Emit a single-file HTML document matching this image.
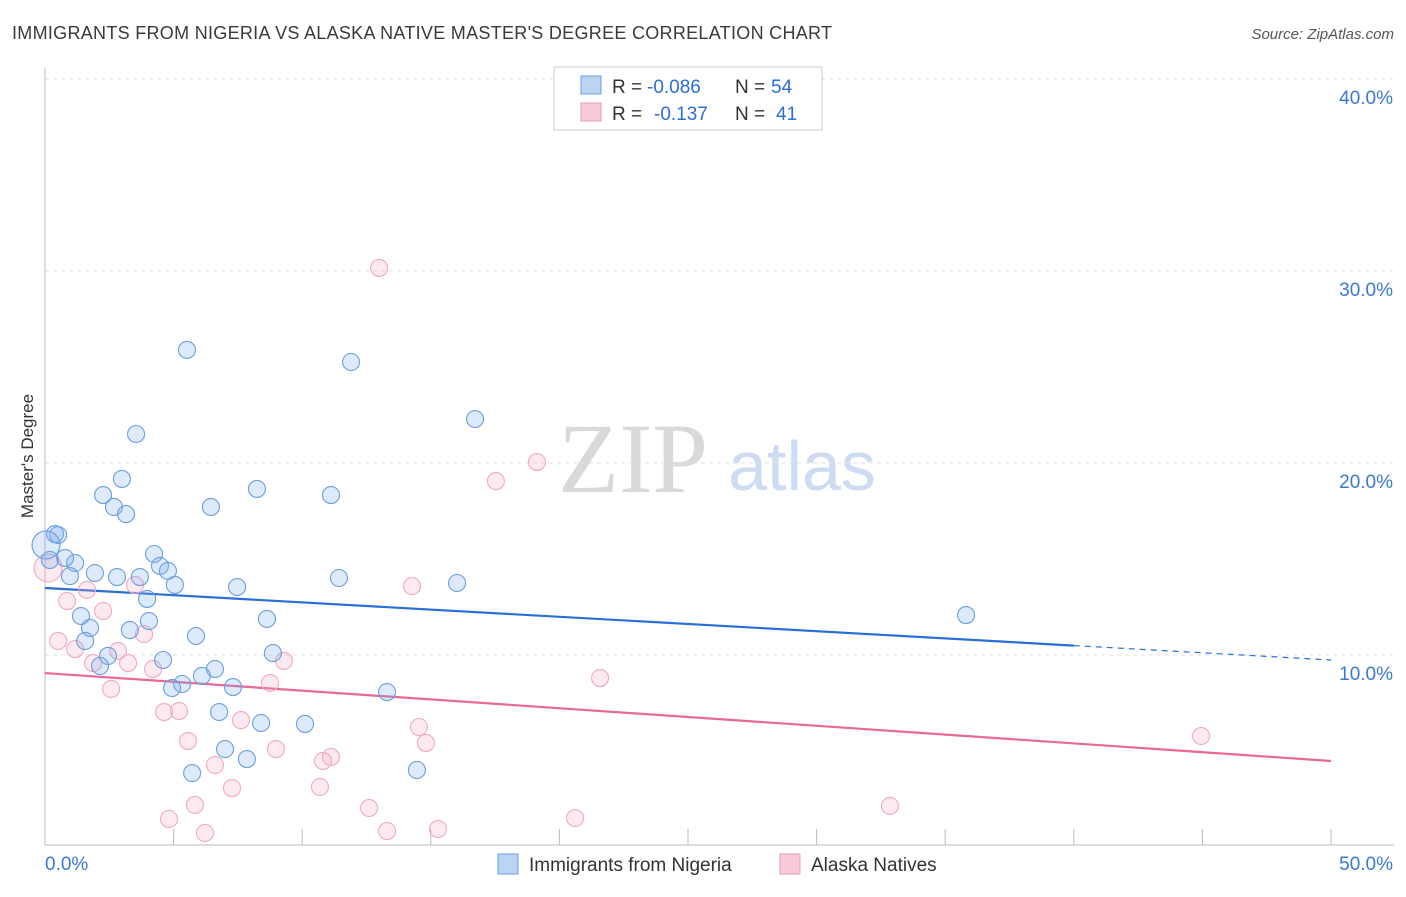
<!DOCTYPE html>
<html><head><meta charset="utf-8"><style>
body{margin:0;background:#fff;font-family:"Liberation Sans",sans-serif;}
svg text{font-family:"Liberation Sans",sans-serif;}
</style></head><body>
<svg id="chart" width="1406" height="892">
<text x="12" y="39" font-size="18" fill="#3a3a3a" textLength="820">IMMIGRANTS FROM NIGERIA VS ALASKA NATIVE MASTER'S DEGREE CORRELATION CHART</text>
<text x="1394" y="39" font-size="15" fill="#555" text-anchor="end" font-style="italic">Source: ZipAtlas.com</text>
<text x="33" y="456" font-size="17" fill="#333" text-anchor="middle" transform="rotate(-90 33 456)">Master's Degree</text>
<g>
<text x="633" y="492" font-size="100" fill="#d9d9d9" text-anchor="middle" font-family="Liberation Serif" style="font-family:'Liberation Serif',serif">ZIP</text>
<text x="802" y="490" font-size="70" fill="#cddcf2" text-anchor="middle">atlas</text>
</g>
<g id="grid"></g>
<g id="axes"></g>
<g id="lines"></g>
<g id="points"></g>
<g>
<rect x="554" y="67" width="268" height="63" fill="#fff" stroke="#ccc"/>
<rect x="581" y="76" width="20" height="18" fill="#bcd4f4" stroke="#6a9ee0"/>
<rect x="581" y="103" width="20" height="18" fill="#f9cad9" stroke="#e99ab4"/>
<text x="612" y="93" font-size="19" fill="#333">R =</text>
<text x="647" y="93" font-size="19" fill="#2a6fd6">-0.086</text>
<text x="735" y="93" font-size="19" fill="#333">N =</text>
<text x="771" y="93" font-size="19" fill="#2a6fd6">54</text>
<text x="612" y="120" font-size="19" fill="#333">R =</text>
<text x="654" y="120" font-size="19" fill="#2a6fd6">-0.137</text>
<text x="735" y="120" font-size="19" fill="#333">N =</text>
<text x="776" y="120" font-size="19" fill="#2a6fd6">41</text>
</g>
<g>
<rect x="498" y="854" width="20" height="20" fill="#bcd4f4" stroke="#6a9ee0"/>
<text x="529" y="871" font-size="19" fill="#333">Immigrants from Nigeria</text>
<rect x="780" y="854" width="20" height="20" fill="#f9cad9" stroke="#e99ab4"/>
<text x="811" y="871" font-size="19" fill="#333">Alaska Natives</text>
</g>
</svg>
<script>
const yTicks=[10,20,30,40];
const yTickLabels=["10.0%","20.0%","30.0%","40.0%"];
const xTickLabels=["0.0%","50.0%"];
const blueX=[5.52,11.90,3.54,16.72,2.99,2.26,8.24,11.12,2.68,6.45,3.15,0.39,0.51,4.24,0.78,1.17,4.47,0.19,1.94,0.97,2.80,3.69,4.78,5.05,7.47,11.43,16.02,3.97,1.40,8.63,4.04,1.75,3.30,5.87,1.56,8.86,2.45,4.59,2.14,6.61,6.10,5.33,4.94,7.31,13.30,6.77,8.40,10.11,7.00,7.85,5.72,14.46,35.81,0.04];
const blueY=[25.89,25.26,21.51,22.29,19.17,18.33,18.65,18.33,17.71,17.71,17.34,16.30,16.25,15.26,15.05,14.79,14.64,14.95,14.27,14.11,14.06,14.06,14.38,13.65,13.54,14.01,13.75,12.92,12.03,11.88,11.77,11.41,11.30,10.99,10.73,10.10,9.95,9.74,9.43,9.27,8.91,8.49,8.28,8.33,8.07,7.03,6.46,6.41,5.10,4.58,3.85,4.01,12.08,15.73];
const pinkX=[12.99,19.13,17.53,14.27,1.63,3.50,0.86,2.26,3.85,0.51,1.17,2.84,1.87,3.23,4.20,9.29,8.75,2.57,21.58,4.63,5.21,7.62,5.56,14.54,14.81,8.98,11.12,10.81,6.61,7.27,10.69,5.83,12.60,32.85,4.82,20.61,6.22,13.30,15.28,44.95,0.12];
const pinkY=[30.16,20.05,19.06,13.59,13.39,13.65,12.81,12.29,11.09,10.73,10.31,10.21,9.58,9.58,9.27,9.69,8.54,8.23,8.80,7.03,7.08,6.61,5.52,6.25,5.42,5.10,4.69,4.48,4.27,3.07,3.13,2.19,2.03,2.14,1.46,1.51,0.73,0.83,0.94,5.78,14.53];
const blueTrend=[13.49,9.74];
const pinkTrend=[9.06,4.48];
const NS="http://www.w3.org/2000/svg";
const X=v=>45+v*25.72, Y=v=>847-v*19.2;
function mk(parent,tag,attrs){const e=document.createElementNS(NS,tag);for(const k in attrs)e.setAttribute(k,attrs[k]);document.getElementById(parent).appendChild(e);return e;}
yTicks.forEach((t,i)=>{
 const g=mk('grid','line',{x1:45,x2:1394,y1:Y(t),y2:Y(t),stroke:'#e2e2e2','stroke-dasharray':'4,4'});
 
 
 const l=mk('axes','text',{x:1393,y:Y(t)+25,'font-size':19,fill:'#3a78d4','text-anchor':'end'});
 l.textContent=yTickLabels[i];
 
 
});
let a=mk('axes','line',{x1:45,x2:45,y1:68,y2:845,stroke:'#bbb'});


a=mk('axes','line',{x1:45,x2:1394,y1:845,y2:845,stroke:'#bbb'});


for(let i=1;i<=10;i++){
 const t=mk('axes','line',{x1:X(i*5),x2:X(i*5),y1:829,y2:845,stroke:'#bbb'});
 
 
}
[[0,'start',45],[50,'end',1393]].forEach((d,i)=>{
 const l=mk('axes','text',{x:d[2],y:870,'font-size':19,fill:'#3a78d4','text-anchor':d[1]});
 l.textContent=xTickLabels[i];
 
 
});
const bEnd=40;
const by=x=>blueTrend[0]+(blueTrend[1]-blueTrend[0])*x/50;
let ln=mk('lines','line',{x1:X(0),y1:Y(by(0)),x2:X(bEnd),y2:Y(by(bEnd)),stroke:'#2a6fd6','stroke-width':2.2});


ln=mk('lines','line',{x1:X(bEnd),y1:Y(by(bEnd)),x2:X(50),y2:Y(by(50)),stroke:'#2a6fd6','stroke-width':1.2,'stroke-dasharray':'6,5'});


ln=mk('lines','line',{x1:X(0),y1:Y(pinkTrend[0]),x2:X(50),y2:Y(pinkTrend[1]),stroke:'#e8689a','stroke-width':2.2});


pinkX.forEach((v,i)=>{
 const big=i===pinkX.length-1;
 const c=mk('points','circle',{cx:X(v),cy:Y(pinkY[i]),r:big?14:8.5,fill:'rgba(244,170,195,0.25)',stroke:'#eeaac2','stroke-width':1.1});
 
 
});
blueX.forEach((v,i)=>{
 const big=i===blueX.length-1;
 const c=mk('points','circle',{cx:X(v),cy:Y(blueY[i]),r:big?14:8.5,fill:'rgba(120,170,235,0.25)',stroke:'#6c9ee0','stroke-width':1.1});
 
 
});
</script>
</body></html>
